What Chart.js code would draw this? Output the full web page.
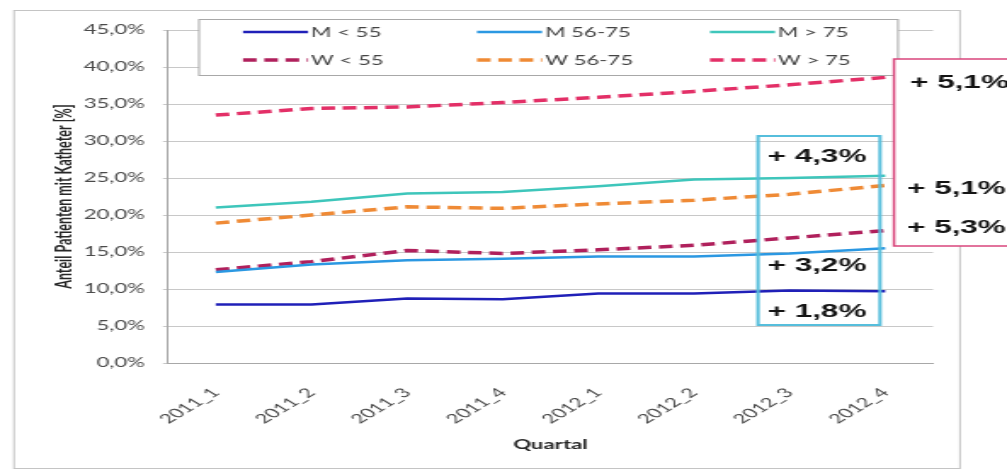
<!DOCTYPE html>
<html>
<head>
<meta charset="utf-8">
<script src="https://cdn.jsdelivr.net/npm/chart.js@4.4.1/dist/chart.umd.min.js"></script>
<style>
  html, body { margin: 0; padding: 0; background: #fff; overflow: hidden; }
  canvas { display: block; }
</style>
</head>
<body>
<!-- the canvas is drawn narrow and widened by CSS, giving the wide lettering of the original sheet -->
<canvas id="chart" width="592" height="474" style="width:1007px;height:474px"></canvas>
<script>
// ---- data ----
const quarters = ['2011_1', '2011_2', '2011_3', '2011_4', '2012_1', '2012_2', '2012_3', '2012_4'];
const yTickLabels = ['0,0%', '5,0%', '10,0%', '15,0%', '20,0%', '25,0%', '30,0%', '35,0%', '40,0%', '45,0%'];
const seriesNames = ['M < 55', 'M 56-75', 'M > 75', 'W < 55', 'W 56-75', 'W > 75'];

const menUnder55   = [7.9, 7.9, 8.7, 8.6, 9.4, 9.4, 9.8, 9.7];
const men56to75    = [12.3, 13.3, 13.9, 14.1, 14.4, 14.4, 14.8, 15.5];
const menOver75    = [21.0, 21.8, 22.9, 23.1, 23.9, 24.8, 25.0, 25.3];
const womenUnder55 = [12.6, 13.7, 15.2, 14.8, 15.3, 15.9, 16.9, 17.9];
const women56to75  = [18.9, 20.0, 21.1, 20.9, 21.5, 22.0, 22.8, 24.0];
const womenOver75  = [33.5, 34.4, 34.6, 35.2, 35.9, 36.7, 37.6, 38.6];

// ---- geometry helpers: page pixels -> canvas pixels (canvas is stretched horizontally) ----
const SX = 1007 / 592;
const ix = X => X / SX;

const lineStyles = [
  { color: '#2020b8', width: 2.5, dash: [] },
  { color: '#2b98e2', width: 2.5, dash: [] },
  { color: '#3ec6bb', width: 2.5, dash: [] },
  { color: '#b0205c', width: 3.5, dash: [8, 4.5] },
  { color: '#ef8a35', width: 3.5, dash: [8, 4.5] },
  { color: '#e32f67', width: 3.5, dash: [8, 4.5] }
];
const seriesData = [menUnder55, men56to75, menOver75, womenUnder55, women56to75, womenOver75];

const datasets = seriesData.map((values, i) => ({
  label: seriesNames[i],
  data: values,
  borderColor: lineStyles[i].color,
  backgroundColor: lineStyles[i].color,
  borderWidth: lineStyles[i].width,
  borderDash: lineStyles[i].dash,
  pointRadius: 0,
  tension: 0,
  fill: false
}));

// change between first and last quarter, German decimal comma
const deltaText = values => '+ ' + (values[values.length - 1] - values[0]).toFixed(1).replace('.', ',') + '%';

// ---- outer frame of the sheet ----
const framePlugin = {
  id: 'frame',
  beforeDraw(chart) {
    const c = chart.ctx;
    c.save();
    c.fillStyle = '#ffffff';
    c.fillRect(0, 0, chart.width, chart.height);
    c.strokeStyle = '#c4c4c4';
    c.lineWidth = 1;
    c.strokeRect(ix(14), 10.5, ix(960) - ix(14), 458);
    c.restore();
  }
};

// ---- legend box: three columns, two rows ----
const legendPlugin = {
  id: 'legendBox',
  afterDraw(chart) {
    const c = chart.ctx;
    c.save();
    c.fillStyle = '#ffffff';
    c.strokeStyle = '#a8a8a8';
    c.lineWidth = 1;
    c.fillRect(ix(199), 19.5, ix(898) - ix(199), 56);
    c.strokeRect(ix(199), 19.5, ix(898) - ix(199), 56);
    const colStart = [243, 477, 710];
    const rowY = [32, 60];
    c.font = '13px Lato';
    c.textBaseline = 'middle';
    c.textAlign = 'left';
    chart.data.datasets.forEach((ds, i) => {
      const col = i % 3, row = Math.floor(i / 3);
      const x0 = ix(colStart[col]), x1 = ix(colStart[col] + 65), y = rowY[row];
      c.beginPath();
      c.strokeStyle = ds.borderColor;
      c.lineWidth = ds.borderWidth;
      c.setLineDash(ds.borderDash);
      c.moveTo(x0, y);
      c.lineTo(x1, y);
      c.stroke();
      c.setLineDash([]);
      c.fillStyle = '#444444';
      c.fillText(ds.label, x1 + ix(3), y + 0.5);
    });
    c.restore();
  }
};

// ---- boxed change labels at the right end ----
const notesPlugin = {
  id: 'notes',
  afterDraw(chart) {
    const c = chart.ctx;
    const yScale = chart.scales.y;
    const lastY = values => yScale.getPixelForValue(values[values.length - 1]);
    c.save();

    // men: outlined box over the last quarter
    c.strokeStyle = '#56bedc';
    c.lineWidth = 2;
    c.strokeRect(ix(758), 136, ix(880) - ix(758), 189);
    c.font = 'bold 18.5px "Liberation Sans"';
    c.fillStyle = '#141414';
    c.textBaseline = 'middle';
    c.textAlign = 'center';
    [[menOver75, -19], [men56to75, 18], [menUnder55, 21]].forEach(([v, off]) => {
      c.fillText(deltaText(v), ix(817), lastY(v) + off);
    });

    // women: white box to the right of the plot
    c.fillStyle = '#ffffff';
    c.fillRect(ix(894), 59, ix(1012) - ix(894), 187);
    c.strokeStyle = '#d9467c';
    c.lineWidth = 1.5;
    c.strokeRect(ix(894), 59, ix(1012) - ix(894), 187);
    c.fillStyle = '#141414';
    c.textAlign = 'left';
    [[womenOver75, 6, 910], [women56to75, 4, 907], [womenUnder55, -3, 907]].forEach(([v, off, x]) => {
      c.fillText(deltaText(v), ix(x), lastY(v) + off);
    });
    c.restore();
  }
};

new Chart(document.getElementById('chart'), {
  type: 'line',
  data: { labels: quarters, datasets },
  options: {
    responsive: false,
    animation: false,
    devicePixelRatio: 1,
    events: [],
    layout: { padding: { left: 0, right: 592 - ix(933), top: 30, bottom: 0 } },
    plugins: { legend: { display: false }, tooltip: { enabled: false } },
    scales: {
      x: {
        offset: true,
        grid: { display: false },
        border: { display: true, color: '#a8a8a8', width: 1 },
        ticks: {
          autoSkip: false, minRotation: 45, maxRotation: 45,
          color: '#4a4a4a', font: { family: 'Lato', size: 13 }, padding: 14
        },
        title: {
          display: true, text: 'Quartal', color: '#262626',
          font: { family: 'Lato', size: 13, weight: 'bold' },
          padding: { top: 0, bottom: 21 }
        },
        afterFit(scale) { scale.height = 111; }
      },
      y: {
        min: 0, max: 45,
        ticks: {
          stepSize: 5,
          callback: (value, index) => yTickLabels[index],
          color: '#4a4a4a', font: { family: 'Lato', size: 13 }, padding: 10.6
        },
        grid: { color: '#c8c8c8', lineWidth: 1, tickLength: 3, drawTicks: true },
        border: { display: true, color: '#a8a8a8', width: 1 },
        title: {
          display: true, text: 'Anteil Patienten mit Katheter [%]', color: '#262626',
          font: { family: 'Lato', size: 12.5, weight: 'bold' },
          padding: { top: 30, bottom: 0 }
        },
        afterFit(scale) { scale.width = ix(168); }
      }
    }
  },
  plugins: [framePlugin, legendPlugin, notesPlugin]
});
</script>
</body>
</html>
